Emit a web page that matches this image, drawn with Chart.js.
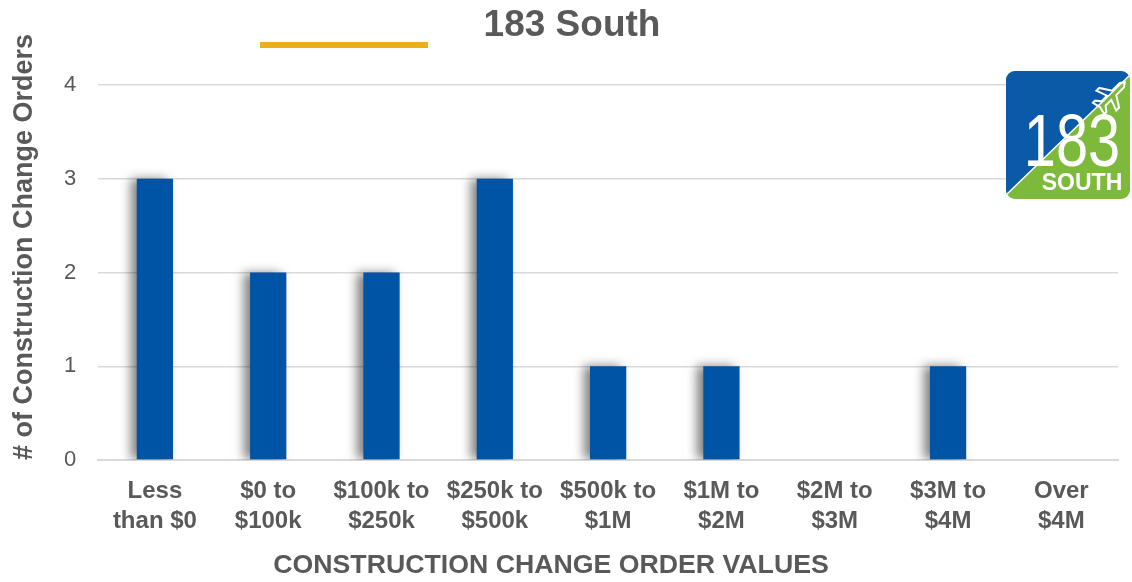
<!DOCTYPE html>
<html>
<head>
<meta charset="utf-8">
<script src="https://cdn.jsdelivr.net/npm/chart.js@4"></script>
<style>
  html, body { margin: 0; padding: 0; background: #fff; }
  #wrap { width: 1132px; height: 582px; }
</style>
</head>
<body>
<div id="wrap"><canvas id="myBarChart" width="1132" height="582"></canvas></div>
<script>
const categories = [
    ['Less', 'than $0'], ['$0 to', '$100k'], ['$100k to', '$250k'], ['$250k to', '$500k'],
    ['$500k to', '$1M'], ['$1M to', '$2M'], ['$2M to', '$3M'], ['$3M to', '$4M'], ['Over', '$4M']
];
const changeOrders = [3, 2, 2, 3, 1, 1, 0, 1, 0];
const yTicks = [0, 1, 2, 3, 4];

const grey = '#595959';
const font = 'Liberation Sans, Arial, sans-serif';

// sombra suave a esquerda das barras
const barShadow = {
    id: 'barShadow',
    beforeDatasetsDraw(chart) {
        const c = chart.ctx;
        c.save();
        c.shadowColor = 'rgba(0, 0, 0, 0.5)';
        c.shadowBlur = 10;
        c.shadowOffsetX = -6;
        c.shadowOffsetY = 0;
    },
    afterDatasetsDraw(chart) {
        chart.ctx.restore();
    }
};

// titulos, linha laranja e logo 183 South
const decor = {
    id: 'decor',
    afterDraw(chart) {
        const c = chart.ctx;
        c.save();
        c.fillStyle = grey;
        c.textAlign = 'center';
        c.textBaseline = 'middle';
        c.font = 'bold 37px ' + font;
        c.fillText('183 South', 572, 26);

        c.font = 'bold 26.7px ' + font;
        c.fillText('CONSTRUCTION CHANGE ORDER VALUES', 551, 566);

        c.font = 'bold 27px ' + font;
        c.save();
        c.translate(25, 247);
        c.rotate(-Math.PI / 2);
        c.fillText('# of Construction Change Orders', 0, 0);
        c.restore();

        c.fillStyle = '#F0AB1F';
        c.fillRect(260, 42, 168, 6);

        // logo
        const x = 1006, y = 71, w = 124, h = 128, r = 9;
        c.beginPath();
        c.roundRect(x, y, w, h, r);
        c.clip();
        c.fillStyle = '#7DBA3C';
        c.fillRect(x, y, w, h);
        c.beginPath();
        c.moveTo(x, y);
        c.lineTo(x + w, y);
        c.lineTo(x + w, y + 4);
        c.lineTo(x, y + h - 4);
        c.closePath();
        c.fillStyle = '#0B5AA8';
        c.fill();
        c.strokeStyle = '#fff';
        c.lineWidth = 1.5;
        c.beginPath();
        c.moveTo(x, y + h - 4);
        c.lineTo(x + w, y + 4);
        c.stroke();
        c.fillStyle = '#fff';
        c.textAlign = 'center';
        c.textBaseline = 'alphabetic';
        c.save();
        c.translate(x + 66, y + 95);
        c.scale(0.78, 1);
        c.font = '74px ' + font;
        c.fillText('183', 0, 0);
        c.restore();
        c.font = 'bold 23px ' + font;
        c.fillText('SOUTH', x + 76, y + 119);
        // aviao
        c.save();
        c.translate(x + 106, y + 24);
        c.rotate(-Math.PI / 4);
        c.strokeStyle = '#fff';
        c.lineWidth = 2;
        c.beginPath();
        c.moveTo(18, 0);
        c.lineTo(14, -3); c.lineTo(3, -3); c.lineTo(-4, -14); c.lineTo(-8, -14);
        c.lineTo(-4, -3); c.lineTo(-12, -3); c.lineTo(-16, -8); c.lineTo(-19, -8);
        c.lineTo(-17, 0);
        c.lineTo(-19, 8); c.lineTo(-16, 8); c.lineTo(-12, 3); c.lineTo(-4, 3);
        c.lineTo(-8, 14); c.lineTo(-4, 14); c.lineTo(3, 3); c.lineTo(14, 3);
        c.closePath();
        c.stroke();
        c.restore();
        c.restore();
    }
};

const ctx = document.getElementById('myBarChart').getContext('2d');

new Chart(ctx, {
    type: 'bar',
    data: {
        labels: categories,
        datasets: [{
            data: changeOrders,
            backgroundColor: '#0054A6',
            borderWidth: 0,
            barPercentage: 0.32,
            categoryPercentage: 1
        }]
    },
    options: {
        responsive: false,
        animation: false,
        layout: {
            padding: { top: 85, right: 14, bottom: 38, left: 42 }
        },
        plugins: {
            legend: { display: false },
            tooltip: { enabled: false }
        },
        scales: {
            x: {
                grid: { display: false },
                border: { color: '#d9d9d9', width: 2 },
                ticks: {
                    color: grey,
                    font: { family: font, size: 24, weight: 'bold', lineHeight: 1.25 },
                    maxRotation: 0,
                    autoSkip: false,
                    padding: 8
                }
            },
            y: {
                min: 0,
                max: 4,
                afterBuildTicks: (axis) => { axis.ticks = yTicks.map(v => ({ value: v })); },
                grid: { color: '#d9d9d9', lineWidth: 1.5, drawTicks: false },
                border: { display: false },
                ticks: {
                    color: grey,
                    font: { family: font, size: 22 },
                    padding: 22
                }
            }
        }
    },
    plugins: [barShadow, decor]
});
</script>
</body>
</html>
